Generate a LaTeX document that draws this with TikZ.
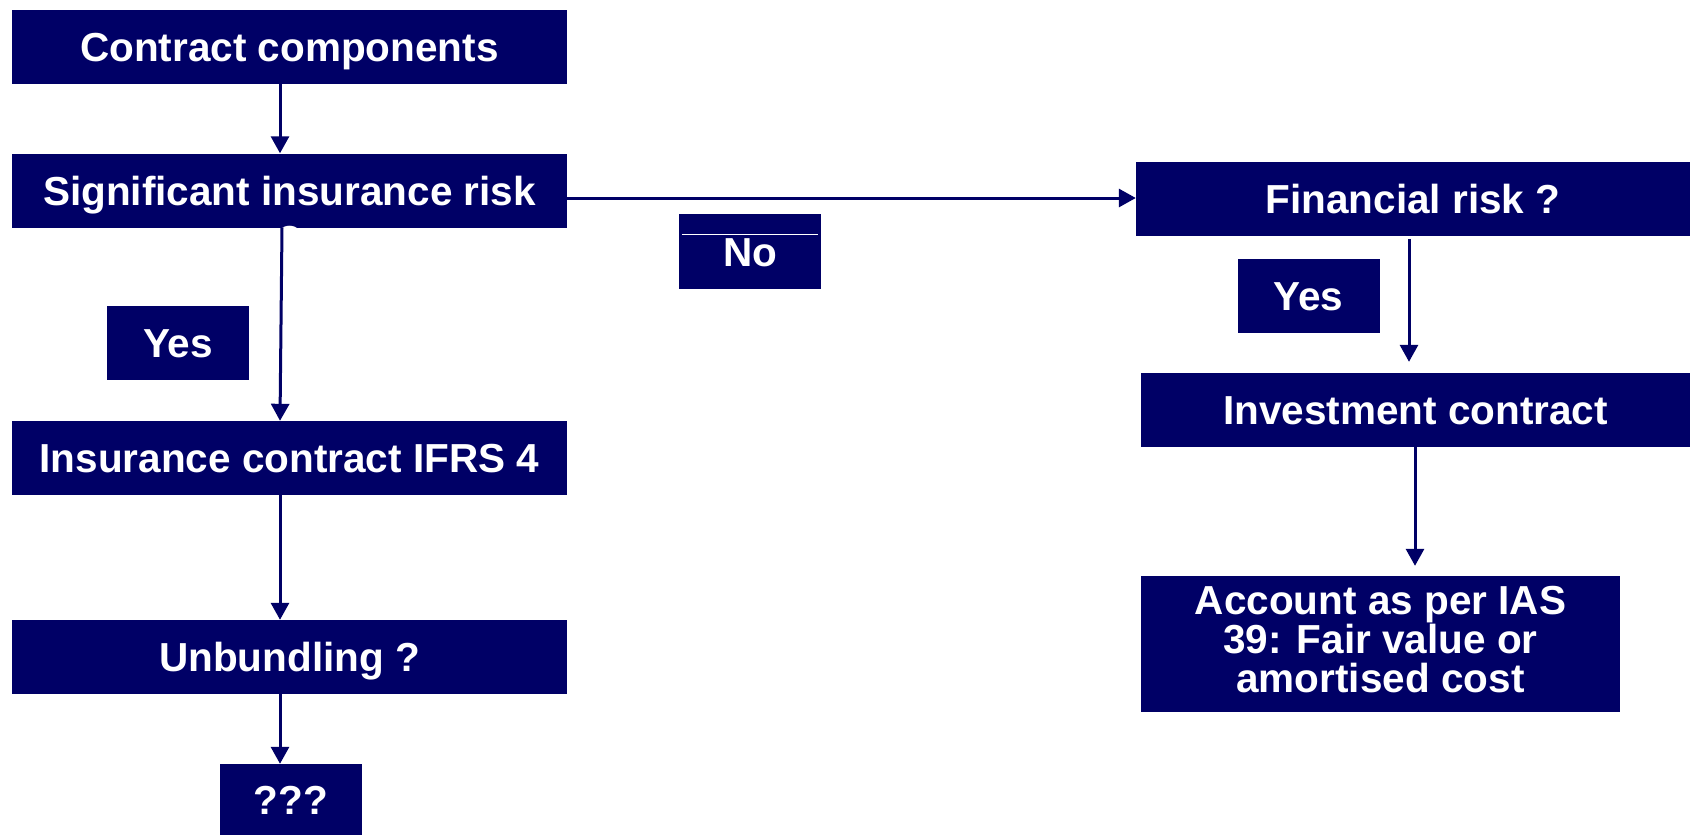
\documentclass[tikz,border=0pt]{standalone}
\usepackage{fontspec}
\setmainfont{Liberation Sans}
\usetikzlibrary{arrows.meta,positioning}
\definecolor{navy}{RGB}{0,0,102}

\begin{document}
\begin{tikzpicture}[
    x=1pt, y=-1pt,
    box/.style={fill=navy, text=white, align=center, inner sep=0pt, font=\fontsize{40.5}{39}\selectfont\bfseries},
    oneline/.style={text height=29pt, text depth=0pt},
    wide/.style={box, oneline, minimum width=555pt, minimum height=74pt},
    tag/.style={box, oneline, minimum width=142pt, minimum height=74pt},
    arrow/.style={-{Triangle[length=17pt, width=18pt]}, line width=3pt, navy}
]
\useasboundingbox (0,0) rectangle (1690,835);
% left column
\node[wide] (contract) at (289.5,47) {Contract components};
\node[wide] (sigrisk) at (289.5,190.5) {Significant insurance risk};
\node[text=white, font=\fontsize{40.5}{39}\selectfont\bfseries, inner sep=0pt] (sigq) at (289.5,240) {?};
\node[wide] (insurance) at (289.5,458) {Insurance contract IFRS 4};
\node[wide] (unbundling) at (289.5,657) {Unbundling ?};
\node[tag, minimum height=71pt] (unknown) at (291,799.5) {???};
\node[tag] (yesleft) at (178,343) {Yes};
\node[tag, minimum height=75pt] (no) at (750,251.5) {No};
\draw[white, line width=1.2pt] ([xshift=3pt,yshift=-21pt]no.north west) -- ([xshift=-3pt,yshift=-21pt]no.north east);
% right column
\node[box, oneline, minimum width=554pt, minimum height=74pt] (finrisk) at (1413,199) {Financial risk ?};
\node[tag] (yesright) at (1308.5,296) {Yes};
\node[box, oneline, minimum width=549pt, minimum height=74pt] (investment) at (1415.5,410) {Investment contract};
\node[box, minimum width=479pt, minimum height=136pt] (account) at (1380.5,644) {Account as per IAS\\39: Fair value or\\amortised cost\\[-30pt]};

\draw[arrow] ([xshift=-9.5pt]contract.south) -- ([xshift=-9.5pt]sigrisk.north);
\draw[arrow] ([xshift=-7.5pt]sigrisk.south) -- ([xshift=-9.5pt]insurance.north);
\draw[arrow] ([xshift=-9.5pt]insurance.south) -- ([xshift=-9.5pt]unbundling.north);
\draw[arrow] ([xshift=-9.5pt]unbundling.south) -- ([xshift=-11pt]unknown.north);
\draw[arrow] ([yshift=-7.5pt]sigrisk.east) -- ([yshift=-7.5pt]sigrisk.east -| finrisk.west);
\draw[arrow] ([xshift=-4pt,yshift=-3pt]finrisk.south) -- ([xshift=-6.5pt,yshift=11pt]investment.north);
\draw[arrow] ([xshift=-0.5pt]investment.south) -- ([xshift=34.5pt,yshift=10pt]account.north);
\end{tikzpicture}
\end{document}
